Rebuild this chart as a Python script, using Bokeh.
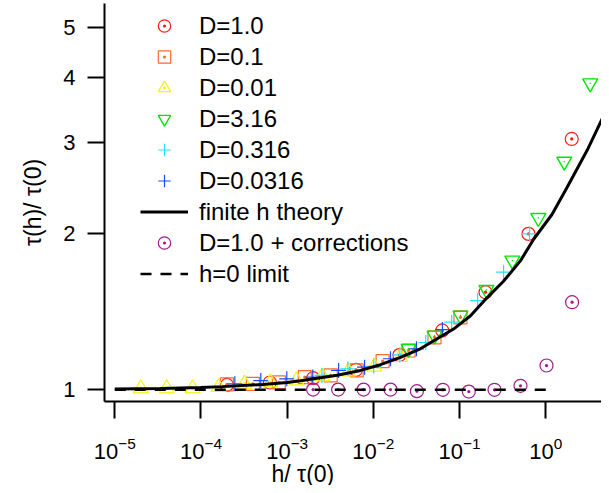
import numpy as np
from bokeh.plotting import figure
from bokeh.models import (FixedTicker, Legend, LegendItem, Title,
                          BasicTickFormatter, Range1d)
from bokeh.embed import file_html
from bokeh.resources import INLINE

# ---------------- data ----------------
red_x = [2e-4, 6.3e-4, 2e-3, 6.3e-3, 0.02, 0.063, 0.2, 0.63, 2.0]
red_y = [1.022, 1.033, 1.053, 1.093, 1.167, 1.302, 1.543, 2.0, 3.05]

orange_x = [2e-4, 4e-4, 8e-4, 1.6e-3, 3.2e-3, 6.4e-3, 1.28e-2, 2.56e-2, 5.12e-2, 0.1024]
orange_y = [1.024, 1.027, 1.034, 1.058, 1.066, 1.090, 1.136, 1.191, 1.263, 1.380]

yellow_x = [2e-5, 4e-5, 8e-5, 1.6e-4, 3.2e-4, 6.4e-4, 1.28e-3, 2.56e-3, 5.12e-3, 1.024e-2, 2.048e-2]
yellow_y = [1.006, 1.006, 1.006, 1.012, 1.027, 1.033, 1.042, 1.061, 1.085, 1.108, 1.156]

green_x = [2.56e-2, 5.12e-2, 0.1024, 0.2048, 0.4096, 0.819, 1.638, 3.277]
green_y = [1.200, 1.273, 1.391, 1.56, 1.777, 2.148, 2.759, 3.908]

cyan_x = [2.53e-3, 5.06e-3, 1.01e-2, 2.03e-2, 4.05e-2, 0.081, 0.162, 0.324, 0.648]
cyan_y = [1.066, 1.098, 1.11, 1.168, 1.234, 1.351, 1.487, 1.687, 2.0]

blue_x = [2.47e-4, 4.94e-4, 9.9e-4, 1.98e-3, 3.95e-3, 7.9e-3, 1.58e-2, 3.16e-2, 6.32e-2]
blue_y = [1.027, 1.042, 1.050, 1.058, 1.090, 1.106, 1.148, 1.200, 1.307]

purple_x = [2e-3, 3.9e-3, 7.7e-3, 1.58e-2, 3.2e-2, 6.4e-2, 0.128, 0.254, 0.509, 1.02, 2.02]
purple_y = [1.001, 1.001, 1.001, 1.001, 0.994, 1.0, 0.992, 1.0, 1.018, 1.114, 1.476]

theory_x = [1e-5, 3.4e-5, 9.9e-5, 1.77e-4, 5.2e-4, 1.0e-3, 1.43e-3, 3.8e-3, 7.1e-3,
            1.21e-2, 2.06e-2, 3.5e-2, 8.5e-2, 0.134, 0.2, 0.323, 0.51, 0.726,
            1.18, 1.77, 3.02, 5.48]
theory_y = [1.0036, 1.0062, 1.0105, 1.0142, 1.024, 1.033, 1.041, 1.067, 1.090,
            1.118, 1.155, 1.200, 1.31, 1.39, 1.495, 1.62, 1.776, 1.955,
            2.18, 2.46, 2.90, 3.57]

limit_x = [1e-5, 1.0]
limit_y = [1.0, 1.0]

x_ticks = [1e-5, 1e-4, 1e-3, 1e-2, 1e-1, 1e0]
y_ticks = [1, 2, 3, 4, 5]

FONT = "Liberation Sans"

p = figure(width=601, height=485, x_axis_type="log", y_axis_type="log",
           x_range=Range1d(7.6e-6, 4.43), y_range=Range1d(0.9493, 5.57),
           output_backend="svg", toolbar_location=None,
           min_border_left=104, min_border_right=0, min_border_top=3,
           min_border_bottom=84)
p.outline_line_color = None
p.xgrid.visible = False
p.ygrid.visible = False
p.background_fill_color = "white"
p.border_fill_color = "white"

for ax in (p.xaxis[0], p.yaxis[0]):
    ax.axis_line_width = 2
    ax.axis_line_color = "black"
    ax.major_tick_line_width = 2
    ax.major_tick_line_color = "black"
    ax.major_tick_out = 17
    ax.major_tick_in = 0
    ax.minor_tick_out = 0
    ax.minor_tick_in = 0
    ax.minor_tick_line_color = None
    ax.major_label_text_font = FONT
    ax.major_label_text_font_size = "22px"
    ax.major_label_text_color = "black"

p.xaxis[0].ticker = FixedTicker(ticks=x_ticks, minor_ticks=[])
p.yaxis[0].ticker = FixedTicker(ticks=y_ticks, minor_ticks=[])
p.yaxis[0].formatter = BasicTickFormatter()
p.xaxis[0].major_label_standoff = 18
p.yaxis[0].major_label_standoff = 12

p.yaxis[0].axis_label = "τ(h)/ τ(0)"
p.yaxis[0].axis_label_text_font = FONT
p.yaxis[0].axis_label_text_font_size = "23px"
p.yaxis[0].axis_label_text_font_style = "normal"
p.yaxis[0].axis_label_text_color = "black"
p.yaxis[0].axis_label_standoff = 14

# markers
r_red = p.scatter(red_x, red_y, marker="circle_dot", size=13, fill_color=None,
                  line_color="#ff1a1a", line_width=1.2)
r_orange = p.scatter(orange_x, orange_y, marker="square_dot", size=13, fill_color=None,
                     line_color="#ff6a33", line_width=1.2)
r_yellow = p.scatter(yellow_x, yellow_y, marker="triangle_dot", size=15, fill_color=None,
                     line_color="#f5f500", line_width=1.2)
r_green = p.scatter(green_x, green_y, marker="inverted_triangle", size=15,
                    fill_color=None, line_color="#00e600", line_width=1.4)
p.scatter(green_x, green_y, marker="dot", size=6, line_color="#00e600",
          fill_color="#00e600")
r_cyan = p.scatter(cyan_x, cyan_y, marker="cross", size=15, line_color="#1ae6ff",
                   line_width=1.2)
r_blue = p.scatter(blue_x, blue_y, marker="cross", size=15, line_color="#1a4dff",
                   line_width=1.2)
r_purple = p.scatter(purple_x, purple_y, marker="circle_dot", size=13, fill_color=None,
                     line_color="#a01a8c", line_width=1.2)

# lines
r_theory = p.line(theory_x, theory_y, line_color="black", line_width=3)
r_limit = p.line(limit_x, limit_y, line_color="black", line_width=2.5, line_dash="11 9")

legend = Legend(items=[
    LegendItem(label="D=1.0", renderers=[r_red]),
    LegendItem(label="D=0.1", renderers=[r_orange]),
    LegendItem(label="D=0.01", renderers=[r_yellow]),
    LegendItem(label="D=3.16", renderers=[r_green]),
    LegendItem(label="D=0.316", renderers=[r_cyan]),
    LegendItem(label="D=0.0316", renderers=[r_blue]),
    LegendItem(label="finite h theory", renderers=[r_theory]),
    LegendItem(label="D=1.0 + corrections", renderers=[r_purple]),
    LegendItem(label="h=0 limit", renderers=[r_limit]),
], location=(36, 112))
legend.border_line_color = None
legend.background_fill_alpha = 0
legend.padding = 0
legend.margin = 0
legend.spacing = 0
legend.glyph_width = 48
legend.glyph_height = 31
legend.label_height = 31
legend.label_standoff = 11
legend.label_text_font = FONT
legend.label_text_font_size = "24px"
legend.label_text_color = "black"
p.add_layout(legend)

xtitle = Title(text="h/ τ(0)", align="left", offset=167, standoff=-6,
               text_font=FONT, text_font_size="23px", text_font_style="normal",
               text_color="black")
p.add_layout(xtitle, "below")

open("out.html", "w").write(file_html(p, INLINE))
